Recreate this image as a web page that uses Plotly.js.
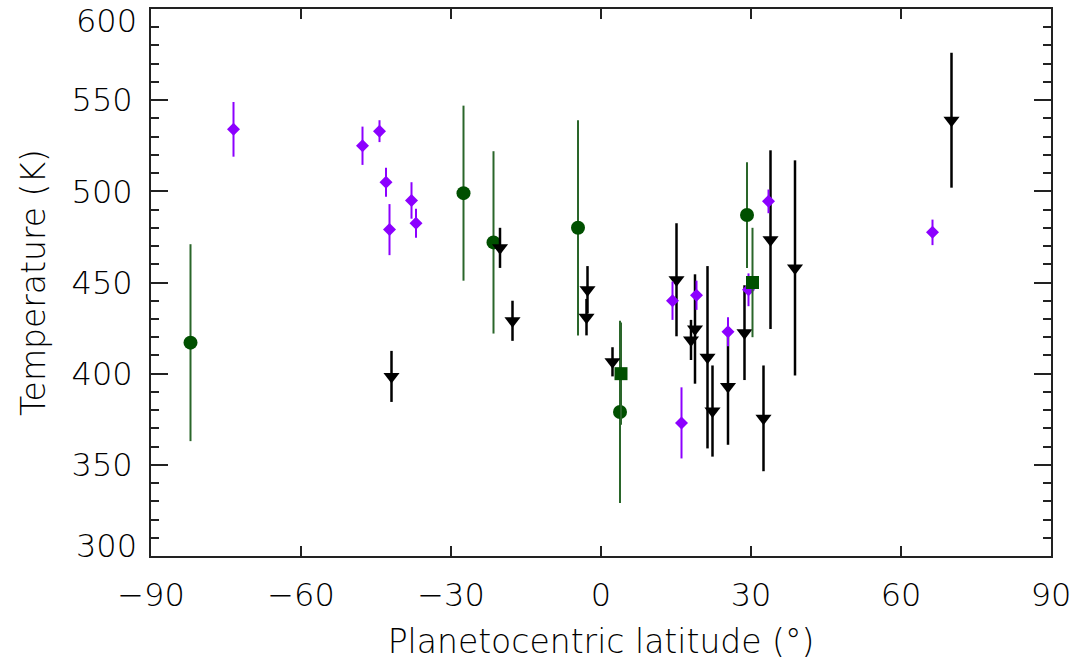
<!DOCTYPE html>
<html>
<head>
<meta charset="utf-8">
<script src="https://cdn.plot.ly/plotly-3.0.1.min.js"></script>
<style>html,body{margin:0;padding:0;background:#fff;}#chart{width:1075px;height:661px;}</style>
</head>
<body>
<div id="chart"></div>
<script>
// Purple diamonds
const purpleLat = [-73.5, -47.7, -44.3, -43.0, -42.3, -37.9, -37.0, 14.3, 16.1, 19.1, 25.4, 29.5, 33.5, 66.3];
const purpleT   = [534, 525, 533, 505, 479, 495, 482.5, 440, 373, 443, 423, 446, 494.5, 477.5];
const purpleErr = [15, 10.5, 6, 8, 14, 10, 8, 10.5, 19.5, 8, 8, 9, 6.5, 7];

// Dark green circles
const circleLat = [-82.1, -27.5, -21.5, -4.6, 3.8, 29.2];
const circleT   = [417, 499, 472, 480, 379, 487];
const circleErr = [54, 48, 50, 59, 50, 29];

// Dark green squares
const squareLat = [4.0, 30.3];
const squareT   = [400, 450];
const squareErr = [28, 30];

// Black downward triangles
const triLat = [-41.9, -20.2, -17.7, -2.7, -2.9, 2.3, 15.1, 18.0, 18.8, 21.3, 22.3, 25.4, 28.7, 32.5, 33.9, 38.8, 70.1];
const triT   = [398.5, 469, 429, 446, 431, 406.5, 451.5, 418.5, 424.5, 409, 379.5, 393, 422.5, 375.5, 473.5, 458, 539];
const triErr = [14, 11, 11, 13, 10, 8, 31, 11, 30, 50, 25, 32, 26, 29, 49, 59, 37];

// Axis ticks
const xTicks = [-90, -60, -30, 0, 30, 60, 90];
const yTicksInner = [350, 400, 450, 500, 550];
const yEdgeLabels = [600, 300];

const FONT = "'DejaVu Sans Light', 'DejaVu Sans ExtraLight', 'DejaVu Sans'";
const TXT = "#000000";

function fmt(v) { return v < 0 ? "\u2212" + Math.abs(v) : String(v); }

function errTrace(x, y, e, sym, size, mcol, ecol, ethick) {
  return {
    type: "scatter", mode: "markers", x: x, y: y,
    marker: {symbol: sym, size: size, color: mcol, line: {width: 0}},
    error_y: {type: "data", array: e, symmetric: true, visible: true, color: ecol, thickness: ethick, width: 0},
    showlegend: false, hoverinfo: "x+y", cliponaxis: true
  };
}

const data = [
  errTrace(circleLat, circleT, circleErr, "circle", 14, "#005000", "#2a662a", 2),
  errTrace(triLat, triT, triErr, "triangle-down", 14, "#000000", "#000000", 2.5),
  errTrace(purpleLat, purpleT, purpleErr, "diamond", 10, "#8c00ff", "#8c00ff", 2),
  errTrace(squareLat, squareT, squareErr, "square", 13, "#005000", "#2a662a", 2)
];

const annotations = yEdgeLabels.map((v, i) => ({
  xref: "paper", yref: "y", x: 0, y: v, text: String(v),
  showarrow: false, xanchor: "right", yanchor: "middle",
  xshift: -12, yshift: i === 0 ? -12 : 10,
  font: {family: FONT, size: 32, color: TXT}
}));

const layout = {
  width: 1075, height: 661,
  margin: {l: 151, r: 24, t: 9, b: 105},
  paper_bgcolor: "#fff", plot_bgcolor: "#fff",
  font: {family: FONT, color: TXT},
  xaxis: {
    range: [-90, 90], tickvals: xTicks, ticktext: xTicks.map(fmt),
    showgrid: false, zeroline: false,
    showline: true, linecolor: "#222", linewidth: 2, mirror: "ticks",
    ticks: "inside", ticklen: 10, tickwidth: 2, tickcolor: "#222",
    tickfont: {family: FONT, size: 32, color: TXT},
    ticklabelstandoff: 10,
    title: {text: "Planetocentric latitude (°)", font: {family: FONT, size: 33, color: TXT}, standoff: 24}
  },
  yaxis: {
    range: [300, 600], tickvals: yTicksInner, ticktext: yTicksInner.map(String),
    showgrid: false, zeroline: false,
    showline: true, linecolor: "#222", linewidth: 2, mirror: "ticks",
    ticks: "inside", ticklen: 17, tickwidth: 2, tickcolor: "#222",
    tickfont: {family: FONT, size: 32, color: TXT},
    ticklabelstandoff: 10,
    minor: {dtick: 10, ticks: "inside", ticklen: 8, tickwidth: 2, tickcolor: "#222", showgrid: false},
    title: {text: "Temperature (K)", font: {family: FONT, size: 33, color: TXT}, standoff: 16}
  },
  annotations: annotations
};

Plotly.newPlot("chart", data, layout, {displayModeBar: false, staticPlot: true});
</script>
</body>
</html>
